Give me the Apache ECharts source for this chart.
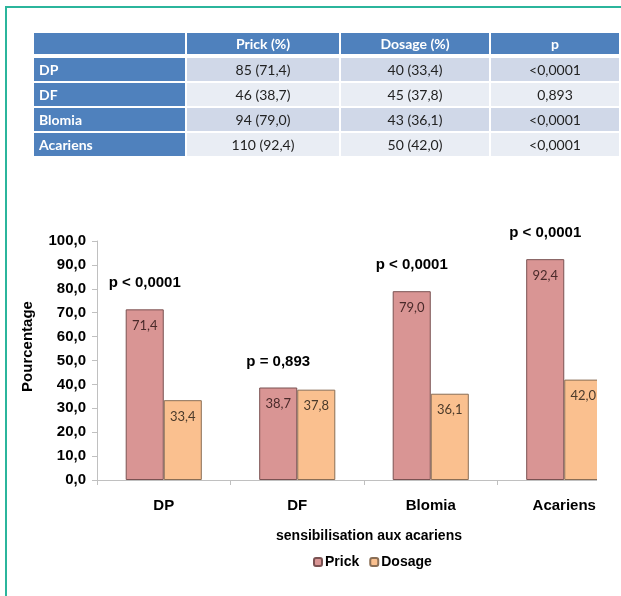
<!DOCTYPE html>
<html>
<head>
<meta charset="utf-8">
<script src="https://cdn.jsdelivr.net/npm/echarts@6/dist/echarts.min.js"></script>
<style>
  html, body { margin: 0; padding: 0; background: #fff; }
  #page { position: relative; width: 621px; height: 596px; overflow: hidden; }
  #frameTop { position: absolute; left: 5px; top: 6px; width: 616px; height: 2px; background: #2bb59c; }
  #frameLeft { position: absolute; left: 5px; top: 6px; width: 2px; height: 590px; background: #2bb59c; }
  #tbl { position: absolute; left: 32px; top: 31px; width: 587px; table-layout: fixed; border-collapse: collapse;
         font-family: Lato, 'Noto Sans', sans-serif; font-size: 14px; }
  #tbl td { border: 2px solid #fff; height: 23px; padding: 0; text-align: center; color: #222; }
  #tbl tr.head td { background: #4f81bd; color: #fff; font-weight: bold; height: 21px; border-bottom-width: 4px; }
  #tbl tr.dark td { background: #d0d8e8; }
  #tbl tr.light td { background: #e9edf4; }
  #tbl tr td.rowName { background: #4f81bd; color: #fff; font-weight: bold; text-align: left; padding-left: 5px; }
  #clip { position: absolute; left: 0; top: 0; width: 597px; height: 596px; overflow: hidden; }
  #main { width: 640px; height: 596px; }
</style>
</head>
<body>
<div id="page">
  <div id="clip"><div id="main"></div></div>
  <table id="tbl"></table>
  <div id="frameTop"></div>
  <div id="frameLeft"></div>
</div>
<script>
  // données du tableau et du graphique
  var categories = ['DP', 'DF', 'Blomia', 'Acariens'];
  var prickN = [85, 46, 94, 110];
  var prickPct = [71.4, 38.7, 79.0, 92.4];
  var dosageN = [40, 45, 43, 50];
  var dosagePct = [33.4, 37.8, 36.1, 42.0];
  var pValues = ['<0,0001', '0,893', '<0,0001', '<0,0001'];
  var headers = ['', 'Prick (%)', 'Dosage (%)', 'p'];
  var colWidths = [153, 154, 150, 130];

  function fr(v) { return v.toFixed(1).replace('.', ','); }

  // tableau
  var html = '<colgroup>';
  colWidths.forEach(function (w) { html += '<col style="width:' + w + 'px">'; });
  html += '</colgroup><tr class="head">';
  headers.forEach(function (h) { html += '<td>' + h + '</td>'; });
  html += '</tr>';
  categories.forEach(function (c, i) {
    html += '<tr class="' + (i % 2 === 0 ? 'dark' : 'light') + '">' +
      '<td class="rowName">' + c + '</td>' +
      '<td>' + prickN[i] + ' (' + fr(prickPct[i]) + ')</td>' +
      '<td>' + dosageN[i] + ' (' + fr(dosagePct[i]) + ')</td>' +
      '<td>' + pValues[i] + '</td></tr>';
  });
  document.getElementById('tbl').innerHTML = html;

  // graphique
  var font = "'Liberation Sans', Arial, sans-serif";
  var pLabels = pValues.map(function (p) {
    return p.charAt(0) === '<' ? 'p < ' + p.slice(1) : 'p = ' + p;
  });

  var myChart = echarts.init(document.getElementById('main'));
  var option = {
    animation: false,
    textStyle: { fontFamily: font },
    grid: { left: 97, top: 241, width: 534, height: 239 },
    legend: {
      data: ['Prick', 'Dosage'],
      left: 308, top: 550,
      itemWidth: 8, itemHeight: 8, itemGap: 10,
      textStyle: { fontFamily: font, fontWeight: 'bold', fontSize: 14, color: '#000', padding: [0, 0, 0, -2] }
    },
    xAxis: {
      type: 'category',
      data: categories,
      name: 'sensibilisation aux acariens',
      nameLocation: 'middle',
      nameGap: 49,
      nameTextStyle: { fontFamily: font, fontWeight: 'bold', fontSize: 14, color: '#000', padding: [0, 0, 0, 10] },
      axisLine: { lineStyle: { color: '#c0c0c0' } },
      axisTick: { show: true, length: 5, lineStyle: { color: '#c0c0c0' } },
      axisLabel: { fontFamily: font, fontWeight: 'bold', fontSize: 15, color: '#000', margin: 18 }
    },
    yAxis: {
      type: 'value',
      min: 0, max: 100, interval: 10,
      name: 'Pourcentage',
      nameLocation: 'middle',
      nameGap: 62,
      nameTextStyle: { fontFamily: font, fontWeight: 'bold', fontSize: 15, color: '#000', padding: [0, 0, 0, 28] },
      axisLine: { show: true, lineStyle: { color: '#c0c0c0' } },
      axisTick: { show: true, length: 5, lineStyle: { color: '#c0c0c0' } },
      splitLine: { show: false },
      axisLabel: {
        fontFamily: font, fontWeight: 'bold', fontSize: 15, color: '#000', margin: 11,
        formatter: function (v) { return fr(v); }
      }
    },
    series: [
      {
        name: 'Prick',
        type: 'bar',
        data: prickPct,
        barGap: '0%',
        barCategoryGap: '43%',
        itemStyle: { color: '#d99594', borderColor: '#7a5252', borderWidth: 1 },
        label: {
          show: true, position: 'insideTop', distance: 10,
          fontFamily: 'Lato, sans-serif', fontSize: 13, color: '#4a2a2a',
          formatter: function (p) { return fr(p.value); }
        },
        markPoint: {
          symbol: 'rect', symbolSize: 0,
          label: {
            show: true, position: 'inside', offset: [0, -26],
            fontFamily: font, fontWeight: 'bold', fontSize: 15, color: '#000',
            formatter: function (p) { return p.name; }
          },
          data: categories.map(function (c, i) {
            return { name: pLabels[i], coord: [i, prickPct[i]] };
          })
        }
      },
      {
        name: 'Dosage',
        type: 'bar',
        data: dosagePct,
        itemStyle: { color: '#fac08f', borderColor: '#8a6e55', borderWidth: 1 },
        label: {
          show: true, position: 'insideTop', distance: 10,
          fontFamily: 'Lato, sans-serif', fontSize: 13, color: '#4a3a2a',
          formatter: function (p) { return fr(p.value); }
        }
      }
    ]
  };
  myChart.setOption(option);
</script>
</body>
</html>
